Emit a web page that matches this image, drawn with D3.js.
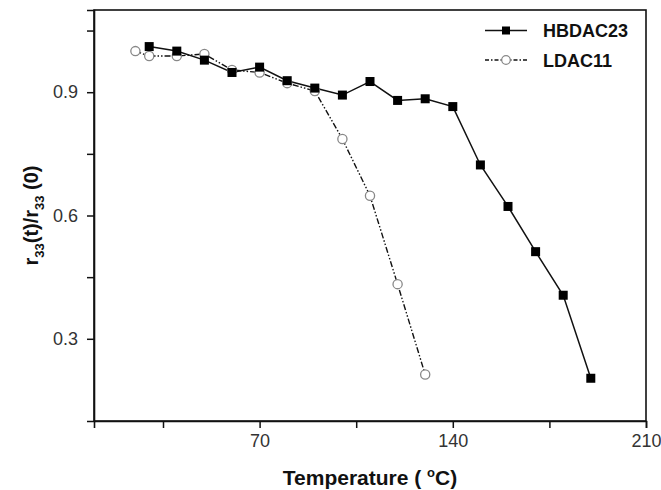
<!DOCTYPE html>
<html>
<head>
<meta charset="utf-8">
<script src="https://cdn.jsdelivr.net/npm/d3@7"></script>
<style>
  body { margin: 0; background: #fff; }
  text { font-family: Arial, "Liberation Sans", sans-serif; }
</style>
</head>
<body>
<div id="chart"></div>
<script>
// data
const hbdacTemp = [30, 40, 50, 60, 70, 80, 90, 100, 110, 120, 130, 140, 150, 160, 170, 180, 190];
const hbdacRatio = [1.011, 1.0, 0.978, 0.948, 0.961, 0.928, 0.91, 0.893, 0.926, 0.88, 0.884, 0.865, 0.723, 0.622, 0.512, 0.406, 0.204];
const ldacTemp = [25, 30, 40, 50, 60, 70, 80, 90, 100, 110, 120, 130];
const ldacRatio = [1.0, 0.988, 0.988, 0.993, 0.954, 0.948, 0.922, 0.903, 0.786, 0.648, 0.433, 0.213];
const xTicks = [35, 70, 105, 140, 175, 210];
const xTickLabels = [70, 140, 210];
const yTicks = [0.3, 0.45, 0.6, 0.75, 0.9, 1.05];
const yTickLabels = [0.3, 0.6, 0.9];

const margin = { top: 10, right: 15, bottom: 69, left: 94 };
const width = 661 - margin.left - margin.right;
const height = 490 - margin.top - margin.bottom;

const svg = d3
  .select("#chart")
  .append("svg")
  .attr("width", 661)
  .attr("height", 490)
  .append("g")
  .attr("transform", `translate(${margin.left},${margin.top})`);

const x = d3.scaleLinear().domain([10, 210]).range([0, width]);
const y = d3.scaleLinear().domain([0.1, 1.1]).range([height, 0]);

// frame
svg.append("rect")
  .attr("width", width)
  .attr("height", height)
  .attr("fill", "none")
  .attr("stroke", "#111")
  .attr("stroke-width", 1.6);

// X axis
const xAxis = svg.append("g")
  .attr("transform", `translate(0, ${height})`)
  .call(d3.axisBottom(x)
    .tickValues(xTicks)
    .tickSize(7)
    .tickPadding(6)
    .tickFormat(d => xTickLabels.includes(d) ? d : ""));

// Y axis
const yAxis = svg.append("g")
  .call(d3.axisLeft(y)
    .tickValues(yTicks)
    .tickSize(7)
    .tickPadding(9)
    .tickFormat(d => yTickLabels.includes(d) ? d3.format(".1f")(d) : ""));

[xAxis, yAxis].forEach(a => {
  a.select(".domain").attr("stroke", "#111").attr("stroke-width", 1.6);
  a.selectAll(".tick line").attr("stroke", "#111").attr("stroke-width", 1.5);
  a.selectAll(".tick text")
    .style("font-size", "18px")
    .attr("fill", "#333");
});

// lines
const line = (temps, vals) => d3.line()
  .x((d, i) => x(temps[i]))
  .y(d => y(d))(vals);

svg.append("path")
  .attr("d", line(ldacTemp, ldacRatio))
  .attr("fill", "none")
  .attr("stroke", "#111")
  .attr("stroke-width", 1.4)
  .attr("stroke-dasharray", "6,2,1.5,2,1.5,2");

svg.append("path")
  .attr("d", line(hbdacTemp, hbdacRatio))
  .attr("fill", "none")
  .attr("stroke", "#111")
  .attr("stroke-width", 1.5);

// markers
svg.selectAll("circle.ldac")
  .data(ldacRatio)
  .join("circle")
  .attr("class", "ldac")
  .attr("cx", (d, i) => x(ldacTemp[i]))
  .attr("cy", d => y(d))
  .attr("r", 4.6)
  .attr("fill", "#fff")
  .attr("stroke", "#888")
  .attr("stroke-width", 1.3);

const sq = 9;
svg.selectAll("rect.hbdac")
  .data(hbdacRatio)
  .join("rect")
  .attr("class", "hbdac")
  .attr("x", (d, i) => x(hbdacTemp[i]) - sq / 2)
  .attr("y", d => y(d) - sq / 2)
  .attr("width", sq)
  .attr("height", sq)
  .attr("fill", "#000");

// legend
const legendData = [
  { label: "HBDAC23", dash: null, marker: "square" },
  { label: "LDAC11", dash: "4,2,1.5,2", marker: "circle" }
];

const legend = svg.append("g")
  .attr("transform", `translate(${485 - margin.left}, ${30.5 - margin.top})`);

legendData.forEach((d, i) => {
  const g = legend.append("g").attr("transform", `translate(0, ${i * 29.5})`);
  g.append("line")
    .attr("x1", 0).attr("x2", 42)
    .attr("stroke", "#111")
    .attr("stroke-width", 1.5)
    .attr("stroke-dasharray", d.dash);
  if (d.marker === "square") {
    g.append("rect")
      .attr("x", 21 - 4).attr("y", -4)
      .attr("width", 8).attr("height", 8)
      .attr("fill", "#000");
  } else {
    g.append("circle")
      .attr("cx", 21).attr("cy", 0).attr("r", 4.3)
      .attr("fill", "#fff")
      .attr("stroke", "#888")
      .attr("stroke-width", 1.2);
  }
  g.append("text")
    .attr("x", 58)
    .attr("y", 6.5)
    .style("font-size", "18px")
    .style("font-weight", "bold")
    .attr("fill", "#111")
    .text(d.label);
});

// axis titles
svg.append("text")
  .attr("x", width / 2)
  .attr("y", 485 - margin.top)
  .attr("text-anchor", "middle")
  .style("font-size", "21px")
  .style("font-weight", "bold")
  .attr("fill", "#111")
  .html('Temperature ( <tspan dy="-8" font-size="13px">o</tspan><tspan dy="8">C)</tspan>');

const yTitle = svg.append("text")
  .attr("transform", `translate(${38 - margin.left}, ${height / 2}) rotate(-90)`)
  .attr("text-anchor", "middle")
  .style("font-size", "20px")
  .style("font-weight", "bold")
  .attr("fill", "#111");
yTitle.append("tspan").text("r");
yTitle.append("tspan").attr("dy", 6).style("font-size", "13px").text("33");
yTitle.append("tspan").attr("dy", -6).text("(t)/r");
yTitle.append("tspan").attr("dy", 6).style("font-size", "13px").text("33");
yTitle.append("tspan").attr("dy", -6).text(" (0)");
</script>
</body>
</html>
